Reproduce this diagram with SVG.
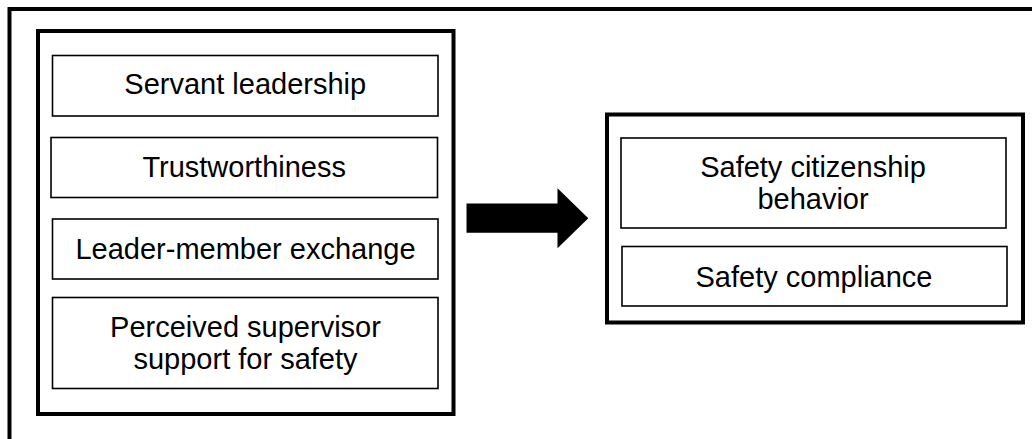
<svg xmlns="http://www.w3.org/2000/svg" width="1032" height="439" viewBox="0 0 1032 439">
  <style>
    .frame { fill: none; stroke: #000; stroke-width: 4; }
    .box { fill: #fff; stroke: #000; stroke-width: 1.6; }
    .label { font-family: "Liberation Sans", Arial, sans-serif; font-size: 29px; fill: #000; text-anchor: middle; }
  </style>
  <rect width="1032" height="439" fill="#fff"/>

  <!-- page frame, open to the right and bottom -->
  <path class="frame" d="M9.5,439 V9 H1032"/>

  <!-- antecedents -->
  <g id="antecedents">
    <rect class="frame" x="38" y="31" width="415.5" height="383"/>
    <g id="servant-leadership">
      <rect class="box" x="52.5" y="55.5" width="385.5" height="60.5"/>
      <text class="label" x="245.25" y="93.5">Servant leadership</text>
    </g>
    <g id="trustworthiness">
      <rect class="box" x="51" y="137.5" width="386.5" height="60"/>
      <text class="label" x="244.2" y="176.5">Trustworthiness</text>
    </g>
    <g id="leader-member-exchange">
      <rect class="box" x="52.5" y="219" width="385.5" height="60"/>
      <text class="label" x="245.5" y="259">Leader-member exchange</text>
    </g>
    <g id="perceived-supervisor-support">
      <rect class="box" x="52.5" y="297.5" width="385.5" height="91"/>
      <text class="label" x="245.5" y="336.5">Perceived supervisor</text>
      <text class="label" x="245.5" y="369">support for safety</text>
    </g>
  </g>

  <!-- outcomes -->
  <g id="outcomes">
    <rect class="frame" x="607" y="114.5" width="416" height="208"/>
    <g id="safety-citizenship-behavior">
      <rect class="box" x="621" y="138" width="385" height="90"/>
      <text class="label" x="813" y="176.5">Safety citizenship</text>
      <text class="label" x="813" y="209">behavior</text>
    </g>
    <g id="safety-compliance">
      <rect class="box" x="622" y="246.5" width="385" height="59.5"/>
      <text class="label" x="814" y="286.5">Safety compliance</text>
    </g>
  </g>

  <!-- connectors -->
  <g id="connectors">
    <polygon fill="#000" points="466.5,203.5 557.5,203.5 557.5,188.3 588.3,218.3 557.5,248.3 557.5,232.7 466.5,232.7"/>
  </g>
</svg>
